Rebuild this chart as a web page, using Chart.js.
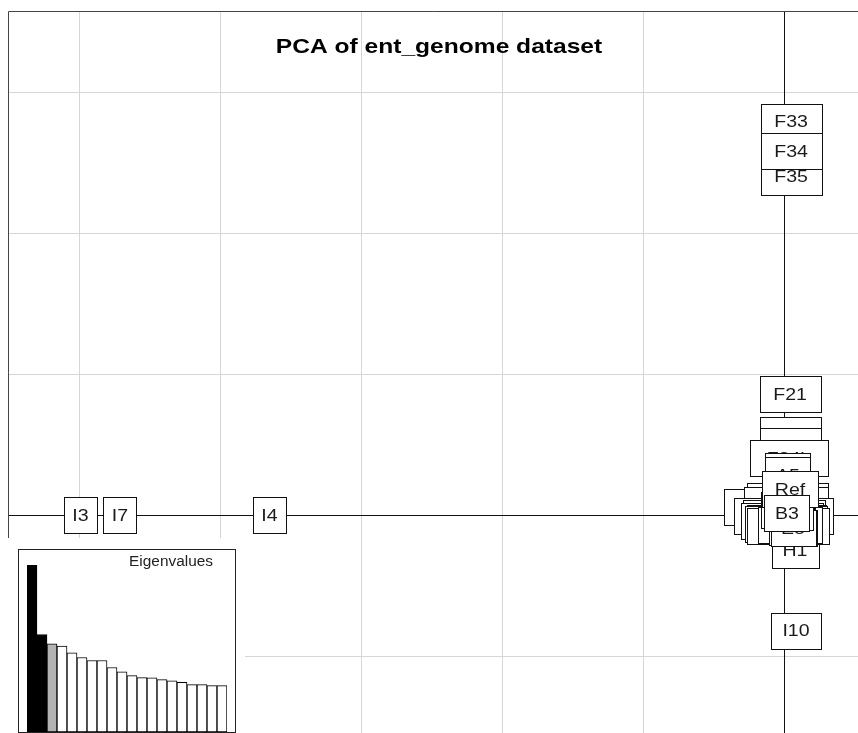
<!DOCTYPE html>
<html lang="en">
<head>
<meta charset="UTF-8">
<title>PCA of ent_genome dataset</title>
<script src="https://cdn.jsdelivr.net/npm/chart.js"></script>
<style>
  body { margin: 0; background: #fff; }
  #wrap { position: relative; width: 858px; height: 733px; overflow: hidden; }
  #pca { position: absolute; left: 0; top: 0; }
  #eigBg { position: absolute; left: 0; top: 538px; width: 245px; height: 195px; background: #fff; }
  #eigBox { position: absolute; left: 18px; top: 549px; width: 216px; height: 182px; border: 1px solid #222; background: #fff; }
  #eigBox canvas { display: block; }
</style>
</head>
<body>
<div id="wrap">
  <canvas id="pca" width="858" height="733"></canvas>
  <div id="eigBg"></div>
  <div id="eigBox"><canvas id="eig" width="216" height="182"></canvas></div>
</div>
<script>
// sample labels, in drawing order (later boxes cover earlier ones)
const sampleNames = ["F33","F35","F34","I3","I7","I4","I10","F21","F22","F23","F24b","A4","A5","A10","H1",
                     "G11a","G12a","C10ab","C11a","C12a","C13a","D11a","D13a","D14a","D12","E5","E6","E7","E8",
                     "B1","B2","Ref","B3"];
const pc1 = [0.05,0.05,0.05,-4.99,-4.71,-3.65,0.085,0.043,0.043,0.043,0.035,0.028,0.028,-0.199,0.078,
             0.028,0.014,-0.007,0.007,0.0,-0.014,0.021,0.014,0.028,0.043,0.057,0.050,0.071,0.064,
             -0.007,0.043,0.043,0.021];
const pc2 = [2.79,2.40,2.58,0.0,0.0,0.0,-0.82,0.858,0.567,0.489,0.404,0.312,0.284,0.057,-0.248,
             0.099,0.071,-0.007,-0.035,-0.021,-0.043,-0.057,-0.064,-0.078,-0.071,-0.078,-0.085,-0.089,-0.092,
             0.035,0.021,0.184,0.014];

// eigenvalues (relative heights)
const eigenvalues = [100,58.4,52.8,51.4,47.4,44.6,42.8,42.8,38.6,36.0,33.8,32.6,32.4,31.4,30.6,29.8,28.4,28.4,27.8,27.8];

// axis window and grid
const xLim = [-5.5035, 0.5248];
const yLim = [-1.546, 3.5745];
const gridX = [-5,-4,-3,-2,-1];
const gridY = [-1,1,2,3];

const SX = 1.15; // horizontal text stretch seen in the picture

function stretchedText(ctx, txt, x, y, sx, align) {
  ctx.save();
  ctx.translate(x, y);
  ctx.scale(sx, 1);
  ctx.textAlign = align || 'center';
  ctx.textBaseline = 'middle';
  ctx.fillText(txt, 0, 0);
  ctx.restore();
}

const backdrop = {
  id: 'backdrop',
  beforeDatasetsDraw(chart) {
    const ctx = chart.ctx, a = chart.chartArea;
    const xs = chart.scales.x, ys = chart.scales.y;
    ctx.save();
    ctx.lineWidth = 1;
    ctx.strokeStyle = '#d6d6d6';
    gridX.forEach(v => {
      const px = Math.round(xs.getPixelForValue(v)) + 0.5;
      ctx.beginPath(); ctx.moveTo(px, a.top); ctx.lineTo(px, a.bottom); ctx.stroke();
    });
    gridY.forEach(v => {
      const py = Math.round(ys.getPixelForValue(v)) + 0.5;
      ctx.beginPath(); ctx.moveTo(a.left, py); ctx.lineTo(a.right, py); ctx.stroke();
    });
    // axes through the origin
    ctx.strokeStyle = '#111';
    const ox = Math.round(xs.getPixelForValue(0)) + 0.5;
    const oy = Math.round(ys.getPixelForValue(0)) + 0.5;
    ctx.beginPath(); ctx.moveTo(ox, a.top); ctx.lineTo(ox, a.bottom); ctx.stroke();
    ctx.beginPath(); ctx.moveTo(a.left, oy); ctx.lineTo(a.right, oy); ctx.stroke();
    // frame (top and left)
    ctx.strokeStyle = '#444';
    ctx.beginPath();
    ctx.moveTo(a.left + 0.5, a.bottom); ctx.lineTo(a.left + 0.5, a.top + 0.5); ctx.lineTo(a.right, a.top + 0.5);
    ctx.stroke();
    // title
    ctx.fillStyle = '#000';
    ctx.font = 'bold 21px "Liberation Sans", Arial, sans-serif';
    stretchedText(ctx, 'PCA of ent_genome dataset', 439, 47, 1.17);
    ctx.restore();
  },
  afterDatasetsDraw(chart) {
    const ctx = chart.ctx;
    const pts = chart.getDatasetMeta(0).data;
    ctx.save();
    ctx.font = '17px "Liberation Sans", Arial, sans-serif';
    ctx.lineWidth = 1;
    pts.forEach((p, i) => {
      const name = sampleNames[i];
      const tw = ctx.measureText(name).width * SX;
      const w = Math.round(1.6 * tw + 7), h = 36;
      const x0 = Math.round(p.x - w / 2) + 0.5, y0 = Math.round(p.y - h / 2) + 0.5;
      ctx.fillStyle = '#fff';
      ctx.fillRect(x0, y0, w, h);
      ctx.strokeStyle = '#111';
      ctx.strokeRect(x0, y0, w, h);
      ctx.fillStyle = '#1a1a1a';
      stretchedText(ctx, name, p.x, p.y + 1, SX);
    });
    ctx.restore();
  }
};

new Chart(document.getElementById('pca'), {
  type: 'scatter',
  data: {
    datasets: [{
      data: sampleNames.map((n, i) => ({ x: pc1[i], y: pc2[i] })),
      pointRadius: 0
    }]
  },
  options: {
    responsive: false,
    animation: false,
    devicePixelRatio: 1,
    layout: { padding: { left: 8, top: 11, right: 0, bottom: 0 } },
    plugins: { legend: { display: false }, tooltip: { enabled: false } },
    scales: {
      x: { type: 'linear', display: false, min: xLim[0], max: xLim[1] },
      y: { type: 'linear', display: false, min: yLim[0], max: yLim[1] }
    }
  },
  plugins: [backdrop]
});

// eigenvalue inset
const nShown = 2, nRetained = 3;
const eigTitle = {
  id: 'eigTitle',
  afterDraw(chart) {
    const ctx = chart.ctx;
    ctx.save();
    ctx.fillStyle = '#222';
    ctx.font = '14px "Liberation Sans", Arial, sans-serif';
    stretchedText(ctx, 'Eigenvalues', 194, 12, 1.1, 'right');
    ctx.restore();
  }
};
new Chart(document.getElementById('eig'), {
  type: 'bar',
  data: {
    labels: eigenvalues.map((v, i) => String(i + 1)),
    datasets: [{
      data: eigenvalues,
      backgroundColor: eigenvalues.map((v, i) => i < nShown ? '#000' : (i < nRetained ? '#b3b3b3' : '#fff')),
      borderColor: '#000',
      borderWidth: 1,
      borderSkipped: false,
      categoryPercentage: 1,
      barPercentage: 1
    }]
  },
  options: {
    responsive: false,
    animation: false,
    devicePixelRatio: 1,
    layout: { padding: { left: 8, right: 8, top: 15, bottom: 0 } },
    plugins: { legend: { display: false }, tooltip: { enabled: false } },
    scales: {
      x: { display: false },
      y: { display: false, min: 0, max: eigenvalues[0] }
    }
  },
  plugins: [eigTitle]
});
</script>
</body>
</html>
